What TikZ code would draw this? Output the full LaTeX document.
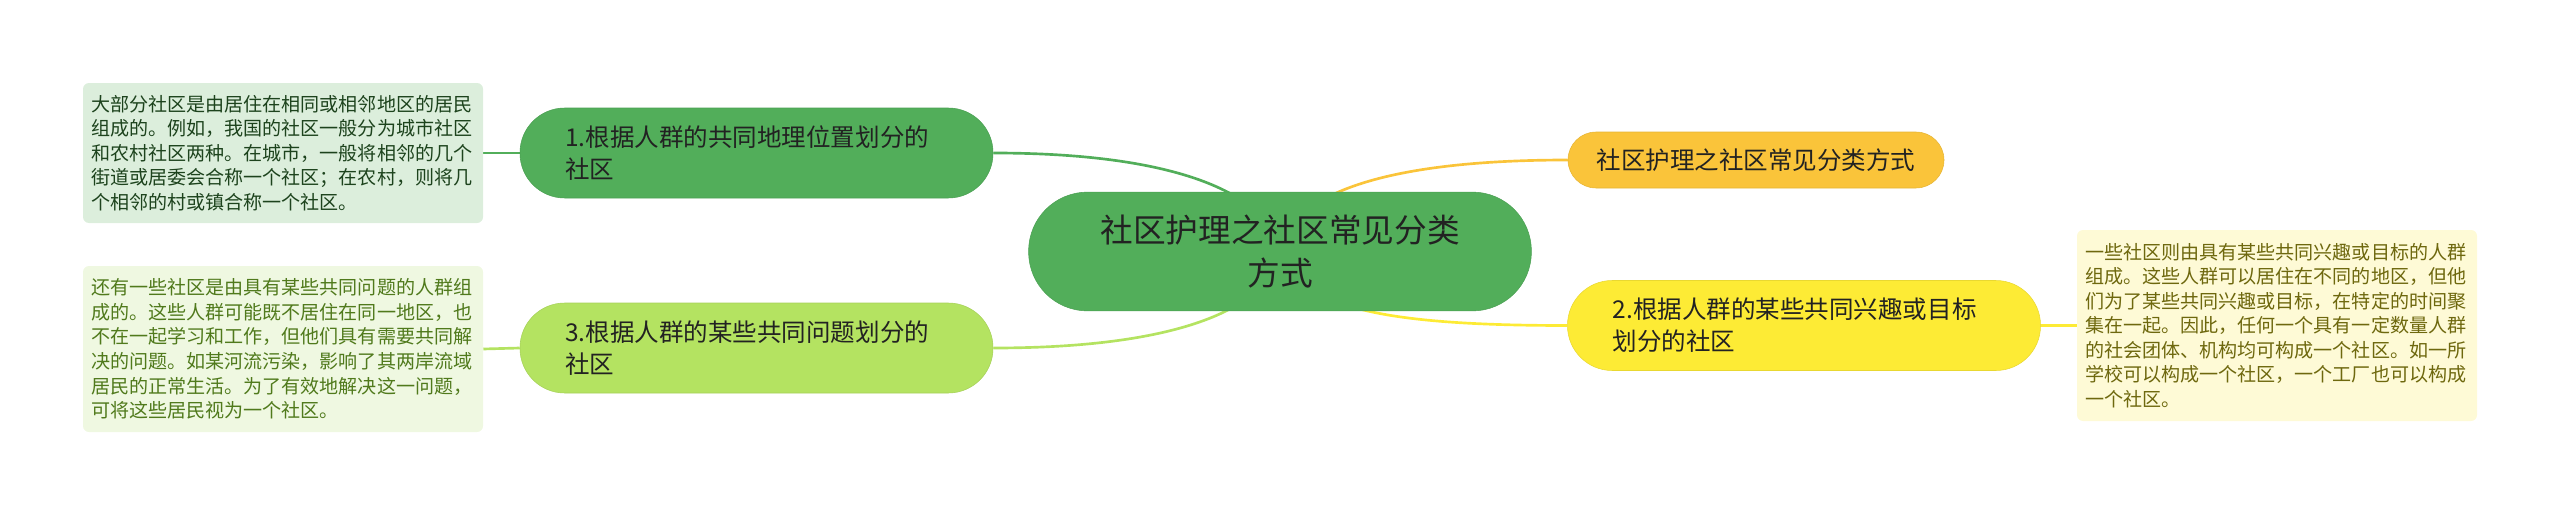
\documentclass[tikz,border=0pt]{standalone}
\usepackage{fontspec}
\setmainfont{Noto Sans CJK SC}
\usepackage{xcolor}
\usepackage{tikz}
\usetikzlibrary{arrows.meta, calc, positioning, backgrounds}
\definecolor{mm-green}{HTML}{52AE5A}
\definecolor{mm-lime}{HTML}{B4E361}
\definecolor{mm-orange}{HTML}{FAC43A}
\definecolor{mm-yellow}{HTML}{FDEB35}
\definecolor{mm-text}{HTML}{222222}
\definecolor{note-green}{HTML}{DCEEDC}
\definecolor{note-lime}{HTML}{EFF8E1}
\definecolor{note-yellow}{HTML}{FEFAD6}
\tikzset{
  % root and branches
  mm-root/.style={rectangle, rounded corners=44pt, fill=mm-green, draw=mm-green!92!black, minimum width=377pt, minimum height=89pt, align=center, text=mm-text, font=\fontsize{24.5pt}{32pt}\selectfont},
  mm-branch/.style={rectangle, rounded corners=33.5pt, draw=#1!92!black, fill=#1, minimum width=354.75pt, minimum height=67.5pt, text width=287pt, inner xsep=33.75pt, align=left, text=mm-text, font=\fontsize{18.4pt}{24pt}\selectfont},
  mm-title/.style={rectangle, rounded corners=21pt, draw=mm-orange!92!black, fill=mm-orange, minimum width=282pt, minimum height=42pt, text=mm-text, font=\fontsize{18.4pt}{24pt}\selectfont},
  % notes
  mm-note/.style={rectangle, rounded corners=4.5pt, fill=#1, minimum width=300pt, text width=288pt, inner xsep=6pt, align=left, font=\fontsize{14.3pt}{18.4pt}\selectfont},
  % links
  mm-link/.style={line width=2pt, draw=#1}
}
\begin{document}
\begin{tikzpicture}[x=0.75pt, y=-0.75pt]
    \useasboundingbox (0,0) rectangle (2560,514);
    % --- Centre ---
    \node[mm-root] (root) at (1280,251.5) {社区护理之社区常见分类\\方式};

    % --- Left side ---
    \node[mm-branch=mm-green] (geo) at (756.5,153) {1.根据人群的共同地理位置划分的\\社区};
    \node[mm-branch=mm-lime] (prob) at (756.5,348) {3.根据人群的某些共同问题划分的\\社区};
    \node[mm-note=note-green, minimum height=105pt, text=mm-text!85!green] (geo-note) at (283,153) {大部分社区是由居住在相同或相邻地区的居民\\组成的。例如，我国的社区一般分为城市社区\\和农村社区两种。在城市，一般将相邻的几个\\街道或居委会合称一个社区；在农村，则将几\\个相邻的村或镇合称一个社区。};
    \node[mm-note=note-lime, minimum height=124.5pt, text={rgb,255:red,80;green,122;blue,28}] (prob-note) at (283,349) {还有一些社区是由具有某些共同问题的人群组\\成的。这些人群可能既不居住在同一地区，也\\不在一起学习和工作，但他们具有需要共同解\\决的问题。如某河流污染，影响了其两岸流域\\居民的正常生活。为了有效地解决这一问题，\\可将这些居民视为一个社区。};

    % --- Right side ---
    \node[mm-title] (title) at (1756,160) {社区护理之社区常见分类方式};
    \node[mm-branch=mm-yellow] (interest) at (1804,325.5) {2.根据人群的某些共同兴趣或目标\\划分的社区};
    \node[mm-note=note-yellow, minimum height=143.25pt, text={rgb,255:red,110;green,104;blue,14}] (interest-note) at (2277,325.5) {一些社区则由具有某些共同兴趣或目标的人群\\组成。这些人群可以居住在不同的地区，但他\\们为了某些共同兴趣或目标，在特定的时间聚\\集在一起。因此，任何一个具有一定数量人群\\的社会团体、机构均可构成一个社区。如一所\\学校可以构成一个社区，一个工厂也可以构成\\一个社区。};

    % --- Links ---
    \begin{scope}[on background layer]
        \draw[mm-link=mm-green] (geo.east) .. controls +(190,0) and +(-10,-55) .. (root.center);
        \draw[mm-link=mm-lime] (prob.east) .. controls +(190,0) and +(-10,55) .. (root.center);
        \draw[mm-link=mm-orange] (title.west) .. controls +(-190,0) and +(10,-55) .. (root.center);
        \draw[mm-link=mm-yellow] (interest.west) .. controls +(-190,0) and +(20,55) .. (root.center);
        \draw[mm-link=mm-green] (geo.west) -- (geo-note.east);
        \draw[mm-link=mm-lime] (prob.west) -- (prob-note.east);
        \draw[mm-link=mm-yellow] (interest.east) -- (interest-note.west);
    \end{scope}
\end{tikzpicture}
\end{document}
